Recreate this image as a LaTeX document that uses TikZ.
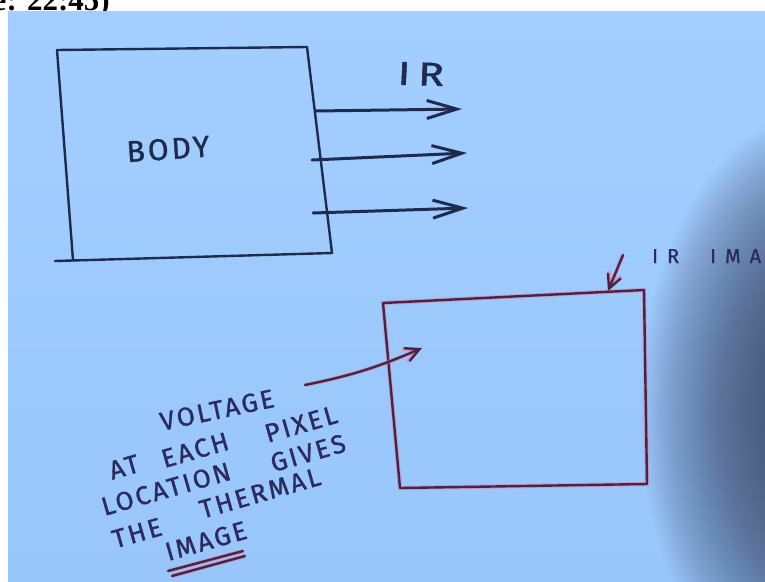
\documentclass[tikz,border=0pt]{standalone}
\usepackage{fontspec}
\setmainfont{Liberation Serif}
\newfontfamily\hand[LetterSpace=10,FakeBold=1.2]{Fira Sans}
\usetikzlibrary{arrows.meta}
\definecolor{board}{HTML}{98C6FB}
\definecolor{boardtop}{HTML}{A3CEFF}
\definecolor{ink}{HTML}{1E2A4E}
\definecolor{mink}{HTML}{4A2446}
\definecolor{tink}{HTML}{2C2A5E}
\definecolor{fringe}{HTML}{E27A9A}
\definecolor{shadowc}{HTML}{36405C}
\tikzset{
  blackline/.style={draw=ink, line width=2.4pt, line cap=round, line join=round},
  redline/.style={draw=mink, line width=2.4pt, line cap=round, line join=round,
    preaction={draw=fringe, line width=4.2pt, opacity=0.55}},
  irarrow/.style={draw=ink, line width=3pt, line cap=round,
    -{Straight Barb[length=30pt,width=18pt]}},
  pointer/.style={redline, -{Straight Barb[length=14pt,width=14pt]}},
  handtext/.style={text=tink, font=\hand\fontsize{26}{26}\selectfont, inner sep=0pt, rotate=16},
  bodytext/.style={text=ink, font=\hand\fontsize{30}{30}\selectfont, inner sep=0pt},
  smalltext/.style={text=tink, font=\hand\fontsize{20}{20}\selectfont\addfontfeature{LetterSpace=45},
    inner sep=0pt, anchor=base west},
  stamp/.style={font=\bfseries\fontsize{31}{31}\selectfont, inner sep=0pt, anchor=base east}
}
\begin{document}
\begin{tikzpicture}[x=1pt,y=-1pt]
\useasboundingbox (0,0) rectangle (765,581);
\fill[white] (0,0) rectangle (765,581);
% cut-off time stamp
\begin{scope}
  \clip (0,0) rectangle (765,11);
  \node[stamp] (time) at (110,10) {e: 22:45)};
\end{scope}
% board
\shade[top color=boardtop, bottom color=board] (8,11) rectangle (765,581);
% shadow of the lecturer
\begin{scope}
  \clip (8,11) rectangle (765,581);
  \foreach \i in {0,...,59}{
    \fill[shadowc, opacity=0.018] (825,410) ellipse ({185-\i*2.2} and {300-\i*3.2});
  }
\end{scope}

% BODY box
\coordinate (btl) at (57,50);
\coordinate (btr) at (307,47);
\coordinate (bbr) at (332,253);
\coordinate (bbl) at (73,260);
\coordinate (bbx) at (55,261);
\draw[blackline] (btl) -- (btr) -- (bbr) -- (bbx);
\draw[blackline] (btl) -- (bbl);
\node[bodytext, rotate=4] (body) at (168,149) {BODY};

% IR arrows
\coordinate (s1) at (316,111); \coordinate (e1) at (462,109);
\coordinate (s2) at (312,160); \coordinate (e2) at (467,153);
\coordinate (s3) at (313,213); \coordinate (e3) at (468,208);
\draw[irarrow] (s1) -- (e1);
\draw[irarrow] (s2) -- (e2);
\draw[irarrow] (s3) -- (e3);
\node[bodytext, font=\hand\fontsize{33}{33}\selectfont, xscale=1.3, rotate=-2] (ir) at (421,74) {I\hspace{6pt}R};

% IR image box
\coordinate (itl) at (383,303);
\coordinate (itr) at (644,290);
\coordinate (ibr) at (647,484);
\coordinate (ibl) at (400,488);
\draw[redline] (itl) -- (itr) -- (ibr) -- (ibl) -- cycle;

% IR IMAGE label and pointer
\node[smalltext] (irlab) at (652,263) {IR};
\node[smalltext] (imalab) at (710,263) {IMA};
\coordinate (p1) at (623,255);
\coordinate (p2) at (608,291);
\draw[pointer] (p1) -- (p2);

% voltage explanation
\node[handtext, rotate=-4] (w1) at (217,410) {VOLTAGE};
\node[handtext] (w2) at (124,467) {AT};
\node[handtext] (w3) at (195,450) {EACH};
\node[handtext] (w4) at (301,424) {PIXEL};
\node[handtext] (w5) at (166,489) {LOCATION};
\node[handtext] (w6) at (308,453) {GIVES};
\node[handtext] (w7) at (137,533) {THE};
\node[handtext] (w8) at (260,493) {THERMAL};
\node[handtext] (w9) at (206,541) {IMAGE};
\coordinate (c1) at (305,385);
\coordinate (c2) at (422,348);
\draw[pointer] (c1) to[bend right=6] (c2);
% double underline
\coordinate (u1) at (168,571); \coordinate (u2) at (243,551);
\coordinate (u3) at (172,576); \coordinate (u4) at (245,556);
\draw[redline] (u1) -- (u2);
\draw[redline] (u3) -- (u4);
\end{tikzpicture}
\end{document}
